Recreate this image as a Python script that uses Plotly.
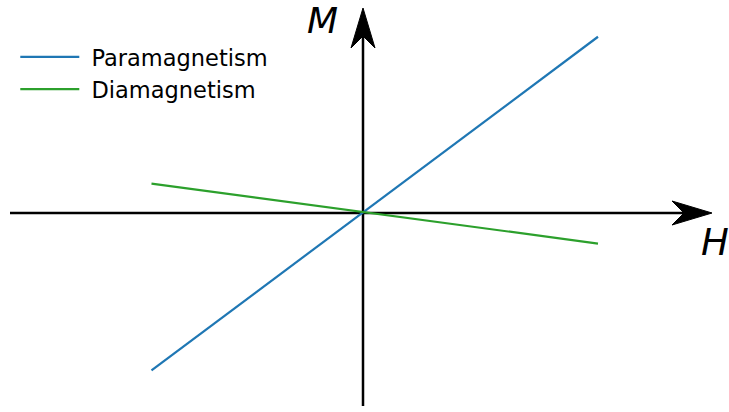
import plotly.graph_objects as go

# Data
H = [-0.9, 1.0]
M_para = [-0.67, 0.75]
M_dia = [0.125, -0.13]
series_names = ["Paramagnetism", "Diamagnetism"]
colors = ["#1f77b4", "#2ca02c"]

W, Hpx = 729, 412
scale = 235.0  # px per unit
x0_px, y0_px = 363, 213
xr = [(0 - x0_px) / scale, (W - x0_px) / scale]
yr = [(y0_px - Hpx) / scale, (y0_px - 0) / scale]

def px2x(p):
    return (p - x0_px) / scale

def px2y(p):
    return (y0_px - p) / scale

fig = go.Figure()
fig.add_trace(go.Scatter(x=H, y=M_para, mode="lines", name="\u00a0" + series_names[0],
                         line=dict(color=colors[0], width=2.2)))
fig.add_trace(go.Scatter(x=H, y=M_dia, mode="lines", name="\u00a0" + series_names[1],
                         line=dict(color=colors[1], width=2.2)))

shapes = []
xa_start, xa_tip = px2x(10), px2x(712)
ya_start, ya_tip = px2y(406), px2y(8)
L, hw, notch = 40 / scale, 12 / scale, 28 / scale
shapes.append(dict(type="line", x0=xa_start, x1=xa_tip - notch, y0=0, y1=0,
                   line=dict(color="black", width=2.5), layer="below"))
shapes.append(dict(type="line", x0=0, x1=0, y0=ya_start, y1=ya_tip - notch,
                   line=dict(color="black", width=2.5), layer="below"))
shapes.append(dict(type="path",
                   path=f"M {xa_tip} 0 L {xa_tip-L} {hw} L {xa_tip-notch} 0 L {xa_tip-L} {-hw} Z",
                   fillcolor="black", line=dict(color="black", width=1)))
shapes.append(dict(type="path",
                   path=f"M 0 {ya_tip} L {hw} {ya_tip-L} L 0 {ya_tip-notch} L {-hw} {ya_tip-L} Z",
                   fillcolor="black", line=dict(color="black", width=1)))

annotations = [
    dict(x=px2x(322), y=px2y(20), xref="x", yref="y", text="M", showarrow=False,
         font=dict(family="DejaVu Sans", size=36, color="black", style="italic"),
         xanchor="center", yanchor="middle"),
    dict(x=px2x(715), y=px2y(242), xref="x", yref="y", text="H", showarrow=False,
         font=dict(family="DejaVu Sans", size=37, color="black", style="italic"),
         xanchor="center", yanchor="middle"),
]

fig.update_layout(
    width=W, height=Hpx,
    margin=dict(l=0, r=0, t=0, b=0),
    paper_bgcolor="white", plot_bgcolor="white",
    xaxis=dict(range=xr, visible=False, fixedrange=True),
    yaxis=dict(range=yr, visible=False, fixedrange=True),
    shapes=shapes, annotations=annotations,
    showlegend=True,
    legend=dict(x=8 / W + 0.01, y=0.93 - 7 / Hpx, xanchor="left", yanchor="top",
                font=dict(family="DejaVu Sans", size=22.5, color="black"),
                itemwidth=59, bgcolor="rgba(0,0,0,0)"),
)

fig.write_html("out.html", config={"displayModeBar": False},
               post_script="document.body.style.margin='0';")
